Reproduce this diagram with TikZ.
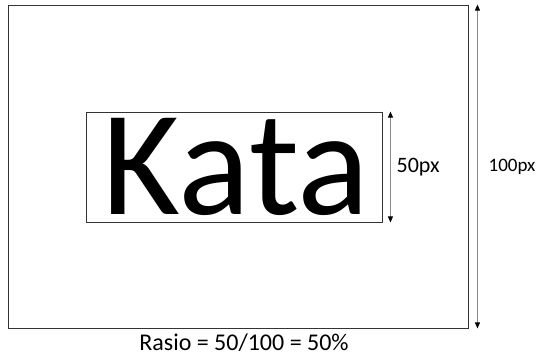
\documentclass[tikz,border=0pt]{standalone}
\usepackage{fontspec}
\setmainfont{Carlito}
\usetikzlibrary{positioning,arrows.meta}

\begin{document}
\begin{tikzpicture}[x=1pt, y=-1pt, node distance=4pt]
        \tikzstyle{box}=[draw=black!80, line width=0.9pt, rectangle, inner sep=0pt]
        \tikzstyle{dim}=[draw=black!45, line width=0.8pt, {Triangle[width=5pt,length=6pt,black]}-{Triangle[width=5pt,length=6pt,black]}]
        \tikzstyle{lbl}=[inner sep=0pt, anchor=west]

        \useasboundingbox (0,0) rectangle (540,358);

        \node[box, minimum width=460pt, minimum height=323pt] (frame) at (238,166.5) {};
        \node[box, minimum width=296pt, minimum height=110pt, font=\fontsize{150}{155}\selectfont] (kata) at (234,167) {\hspace{4pt}Kata};

        % height markers
        \draw[dim] ([xshift=8pt]kata.north east) -- ([xshift=8pt]kata.south east);
        \draw[dim] ([xshift=9pt]frame.north east) -- ([xshift=9pt]frame.south east);

        \node[lbl, font=\fontsize{22}{26}\selectfont] (h50) at ([xshift=14pt]kata.east) {50px};
        \node[lbl, font=\fontsize{19}{23}\selectfont] (h100) at ([xshift=20pt]frame.east) {100px};

        \node[below=5pt of frame, xshift=6pt, font=\fontsize{24}{28}\selectfont, inner sep=0pt] (ratio) {Rasio = 50/100 = 50\%};
    \end{tikzpicture}
\end{document}
